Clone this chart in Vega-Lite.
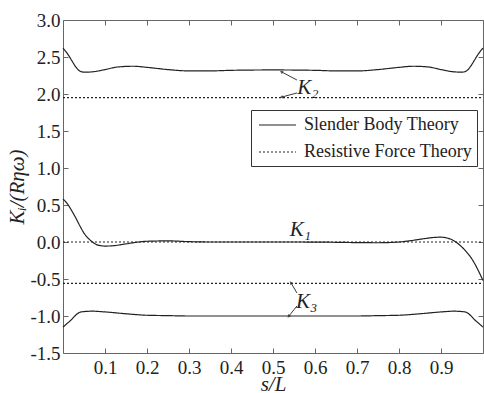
{
  "$schema": "https://vega.github.io/schema/vega-lite/v6.json",
  "width": 420,
  "height": 333,
  "autosize": {"type": "none"},
  "padding": {"left": 63, "top": 20, "right": 1, "bottom": 40},
  "background": "white",
  "config": {
    "view": {"stroke": null},
    "font": "Liberation Serif",
    "axis": {
      "domainColor": "#666",
      "tickColor": "#666",
      "grid": false,
      "labelFont": "Liberation Serif",
      "labelFontSize": 19,
      "labelColor": "#222",
      "titleFont": "Liberation Serif",
      "titleFontStyle": "italic",
      "titleFontWeight": "normal",
      "titleFontSize": 21,
      "titleColor": "#222",
      "tickSize": -5
    }
  },
  "datasets": {
    "curves": [
      {"s": 0, "value": 0.58, "series": "K1", "method": "Slender Body Theory"},
      {"s": 0.01, "value": 0.52, "series": "K1", "method": "Slender Body Theory"},
      {"s": 0.02, "value": 0.43, "series": "K1", "method": "Slender Body Theory"},
      {"s": 0.03, "value": 0.33, "series": "K1", "method": "Slender Body Theory"},
      {"s": 0.04, "value": 0.22, "series": "K1", "method": "Slender Body Theory"},
      {"s": 0.05, "value": 0.12, "series": "K1", "method": "Slender Body Theory"},
      {"s": 0.06, "value": 0.05, "series": "K1", "method": "Slender Body Theory"},
      {"s": 0.07, "value": 0.0, "series": "K1", "method": "Slender Body Theory"},
      {"s": 0.08, "value": -0.035, "series": "K1", "method": "Slender Body Theory"},
      {"s": 0.09, "value": -0.05, "series": "K1", "method": "Slender Body Theory"},
      {"s": 0.1, "value": -0.055, "series": "K1", "method": "Slender Body Theory"},
      {"s": 0.12, "value": -0.05, "series": "K1", "method": "Slender Body Theory"},
      {"s": 0.15, "value": -0.025, "series": "K1", "method": "Slender Body Theory"},
      {"s": 0.2, "value": 0.01, "series": "K1", "method": "Slender Body Theory"},
      {"s": 0.25, "value": 0.015, "series": "K1", "method": "Slender Body Theory"},
      {"s": 0.3, "value": 0.005, "series": "K1", "method": "Slender Body Theory"},
      {"s": 0.35, "value": 0.0, "series": "K1", "method": "Slender Body Theory"},
      {"s": 0.45, "value": 0.0, "series": "K1", "method": "Slender Body Theory"},
      {"s": 0.55, "value": 0.0, "series": "K1", "method": "Slender Body Theory"},
      {"s": 0.62, "value": -0.002, "series": "K1", "method": "Slender Body Theory"},
      {"s": 0.7, "value": -0.008, "series": "K1", "method": "Slender Body Theory"},
      {"s": 0.75, "value": -0.01, "series": "K1", "method": "Slender Body Theory"},
      {"s": 0.8, "value": 0.0, "series": "K1", "method": "Slender Body Theory"},
      {"s": 0.83, "value": 0.02, "series": "K1", "method": "Slender Body Theory"},
      {"s": 0.86, "value": 0.045, "series": "K1", "method": "Slender Body Theory"},
      {"s": 0.88, "value": 0.06, "series": "K1", "method": "Slender Body Theory"},
      {"s": 0.9, "value": 0.065, "series": "K1", "method": "Slender Body Theory"},
      {"s": 0.91, "value": 0.06, "series": "K1", "method": "Slender Body Theory"},
      {"s": 0.92, "value": 0.045, "series": "K1", "method": "Slender Body Theory"},
      {"s": 0.93, "value": 0.02, "series": "K1", "method": "Slender Body Theory"},
      {"s": 0.94, "value": -0.02, "series": "K1", "method": "Slender Body Theory"},
      {"s": 0.95, "value": -0.07, "series": "K1", "method": "Slender Body Theory"},
      {"s": 0.96, "value": -0.13, "series": "K1", "method": "Slender Body Theory"},
      {"s": 0.97, "value": -0.2, "series": "K1", "method": "Slender Body Theory"},
      {"s": 0.98, "value": -0.29, "series": "K1", "method": "Slender Body Theory"},
      {"s": 0.99, "value": -0.4, "series": "K1", "method": "Slender Body Theory"},
      {"s": 1.0, "value": -0.52, "series": "K1", "method": "Slender Body Theory"},

      {"s": 0, "value": 2.62, "series": "K2", "method": "Slender Body Theory"},
      {"s": 0.01, "value": 2.55, "series": "K2", "method": "Slender Body Theory"},
      {"s": 0.02, "value": 2.46, "series": "K2", "method": "Slender Body Theory"},
      {"s": 0.03, "value": 2.37, "series": "K2", "method": "Slender Body Theory"},
      {"s": 0.04, "value": 2.31, "series": "K2", "method": "Slender Body Theory"},
      {"s": 0.05, "value": 2.295, "series": "K2", "method": "Slender Body Theory"},
      {"s": 0.07, "value": 2.3, "series": "K2", "method": "Slender Body Theory"},
      {"s": 0.1, "value": 2.33, "series": "K2", "method": "Slender Body Theory"},
      {"s": 0.13, "value": 2.365, "series": "K2", "method": "Slender Body Theory"},
      {"s": 0.167, "value": 2.375, "series": "K2", "method": "Slender Body Theory"},
      {"s": 0.2, "value": 2.36, "series": "K2", "method": "Slender Body Theory"},
      {"s": 0.25, "value": 2.33, "series": "K2", "method": "Slender Body Theory"},
      {"s": 0.3, "value": 2.312, "series": "K2", "method": "Slender Body Theory"},
      {"s": 0.35, "value": 2.312, "series": "K2", "method": "Slender Body Theory"},
      {"s": 0.4, "value": 2.32, "series": "K2", "method": "Slender Body Theory"},
      {"s": 0.5, "value": 2.325, "series": "K2", "method": "Slender Body Theory"},
      {"s": 0.6, "value": 2.32, "series": "K2", "method": "Slender Body Theory"},
      {"s": 0.65, "value": 2.312, "series": "K2", "method": "Slender Body Theory"},
      {"s": 0.7, "value": 2.312, "series": "K2", "method": "Slender Body Theory"},
      {"s": 0.75, "value": 2.33, "series": "K2", "method": "Slender Body Theory"},
      {"s": 0.8, "value": 2.36, "series": "K2", "method": "Slender Body Theory"},
      {"s": 0.833, "value": 2.375, "series": "K2", "method": "Slender Body Theory"},
      {"s": 0.87, "value": 2.365, "series": "K2", "method": "Slender Body Theory"},
      {"s": 0.9, "value": 2.33, "series": "K2", "method": "Slender Body Theory"},
      {"s": 0.93, "value": 2.3, "series": "K2", "method": "Slender Body Theory"},
      {"s": 0.95, "value": 2.295, "series": "K2", "method": "Slender Body Theory"},
      {"s": 0.96, "value": 2.31, "series": "K2", "method": "Slender Body Theory"},
      {"s": 0.97, "value": 2.37, "series": "K2", "method": "Slender Body Theory"},
      {"s": 0.98, "value": 2.46, "series": "K2", "method": "Slender Body Theory"},
      {"s": 0.99, "value": 2.55, "series": "K2", "method": "Slender Body Theory"},
      {"s": 1.0, "value": 2.62, "series": "K2", "method": "Slender Body Theory"},

      {"s": 0, "value": -1.15, "series": "K3", "method": "Slender Body Theory"},
      {"s": 0.01, "value": -1.1, "series": "K3", "method": "Slender Body Theory"},
      {"s": 0.02, "value": -1.05, "series": "K3", "method": "Slender Body Theory"},
      {"s": 0.03, "value": -0.99, "series": "K3", "method": "Slender Body Theory"},
      {"s": 0.04, "value": -0.95, "series": "K3", "method": "Slender Body Theory"},
      {"s": 0.05, "value": -0.94, "series": "K3", "method": "Slender Body Theory"},
      {"s": 0.07, "value": -0.935, "series": "K3", "method": "Slender Body Theory"},
      {"s": 0.1, "value": -0.945, "series": "K3", "method": "Slender Body Theory"},
      {"s": 0.15, "value": -0.97, "series": "K3", "method": "Slender Body Theory"},
      {"s": 0.2, "value": -0.99, "series": "K3", "method": "Slender Body Theory"},
      {"s": 0.25, "value": -0.995, "series": "K3", "method": "Slender Body Theory"},
      {"s": 0.3, "value": -1.0, "series": "K3", "method": "Slender Body Theory"},
      {"s": 0.5, "value": -1.0, "series": "K3", "method": "Slender Body Theory"},
      {"s": 0.7, "value": -1.0, "series": "K3", "method": "Slender Body Theory"},
      {"s": 0.75, "value": -0.995, "series": "K3", "method": "Slender Body Theory"},
      {"s": 0.8, "value": -0.99, "series": "K3", "method": "Slender Body Theory"},
      {"s": 0.85, "value": -0.97, "series": "K3", "method": "Slender Body Theory"},
      {"s": 0.9, "value": -0.945, "series": "K3", "method": "Slender Body Theory"},
      {"s": 0.93, "value": -0.935, "series": "K3", "method": "Slender Body Theory"},
      {"s": 0.95, "value": -0.94, "series": "K3", "method": "Slender Body Theory"},
      {"s": 0.96, "value": -0.95, "series": "K3", "method": "Slender Body Theory"},
      {"s": 0.97, "value": -0.99, "series": "K3", "method": "Slender Body Theory"},
      {"s": 0.98, "value": -1.05, "series": "K3", "method": "Slender Body Theory"},
      {"s": 0.99, "value": -1.1, "series": "K3", "method": "Slender Body Theory"},
      {"s": 1.0, "value": -1.15, "series": "K3", "method": "Slender Body Theory"},

      {"s": 0, "value": 1.95, "series": "K2r", "method": "Resistive Force Theory"},
      {"s": 1, "value": 1.95, "series": "K2r", "method": "Resistive Force Theory"},
      {"s": 0, "value": 0, "series": "K1r", "method": "Resistive Force Theory"},
      {"s": 1, "value": 0, "series": "K1r", "method": "Resistive Force Theory"},
      {"s": 0, "value": -0.56, "series": "K3r", "method": "Resistive Force Theory"},
      {"s": 1, "value": -0.56, "series": "K3r", "method": "Resistive Force Theory"}
    ],
    "labels": [
      {"s": 0.583, "value": 2.08, "text": "K₂"},
      {"s": 0.565, "value": 0.16, "text": "K₁"},
      {"s": 0.58, "value": -0.81, "text": "K₃"}
    ],
    "arrows": [
      {"id": "a1", "s": 0.557, "value": 2.189, "s2": 0.521, "value2": 2.297},
      {"id": "a2", "s": 0.557, "value": 2.014, "s2": 0.521, "value2": 1.959},
      {"id": "a3", "s": 0.557, "value": -0.689, "s2": 0.543, "value2": -0.554},
      {"id": "a4", "s": 0.557, "value": -0.865, "s2": 0.538, "value2": -1.0}
    ]
  },
  "layer": [
    {
      "data": {"name": "curves"},
      "mark": {"type": "line", "color": "#222", "strokeWidth": 1.2, "interpolate": "monotone"},
      "encoding": {
        "x": {"field": "s", "type": "quantitative",
              "scale": {"domain": [0, 1], "nice": false, "zero": false},
              "axis": {"orient": "bottom", "values": [0.1,0.2,0.3,0.4,0.5,0.6,0.7,0.8,0.9], "format": ".1f",
                       "title": "s/L", "labelPadding": 10, "titlePadding": -4}},
        "y": {"field": "value", "type": "quantitative",
              "scale": {"domain": [-1.5, 3], "nice": false, "zero": false},
              "axis": {"orient": "left", "values": [-1.5,-1,-0.5,0,0.5,1,1.5,2,2.5,3],
                       "labelExpr": "replace(format(datum.value, '.1f'), '−', '-')",
                       "title": "Kᵢ/(Rηω)", "labelPadding": 8, "titlePadding": 2}},
        "detail": {"field": "series"},
        "strokeDash": {"field": "method", "type": "nominal",
          "scale": {"domain": ["Slender Body Theory", "Resistive Force Theory"], "range": [[1, 0], [2, 2]]},
          "legend": {"orient": "none", "legendX": 188, "legendY": 90, "title": null,
                     "strokeColor": "#333", "fillColor": "white", "padding": 5,
                     "symbolType": "M-0.78,0H3.33", "symbolSize": 324, "symbolStrokeWidth": 1.2,
                     "symbolStrokeColor": "#222", "labelFont": "Liberation Serif", "labelLimit": 0,
                     "labelFontSize": 18, "labelColor": "#222", "labelOffset": 28, "rowPadding": 8}}
      }
    },
    {
      "data": {"name": "labels"},
      "mark": {"type": "text", "font": "Liberation Serif", "fontStyle": "italic", "fontSize": 21, "color": "#222"},
      "encoding": {
        "x": {"field": "s", "type": "quantitative",
              "axis": {"orient": "top", "values": [0.1,0.2,0.3,0.4,0.5,0.6,0.7,0.8,0.9], "labels": false, "title": null}},
        "y": {"field": "value", "type": "quantitative",
              "axis": {"orient": "right", "values": [-1.5,-1,-0.5,0,0.5,1,1.5,2,2.5,3], "labels": false, "title": null}},
        "text": {"field": "text"}
      }
    },
    {
      "data": {"name": "arrows"},
      "mark": {"type": "rule", "color": "#222", "strokeWidth": 0.9},
      "encoding": {
        "x": {"field": "s", "type": "quantitative", "axis": null},
        "y": {"field": "value", "type": "quantitative", "axis": null},
        "x2": {"field": "s2"},
        "y2": {"field": "value2"}
      }
    },
    {
      "data": {"name": "arrows"},
      "transform": [{"filter": "datum.id == 'a1'"}],
      "mark": {"type": "point", "shape": "triangle", "filled": true, "color": "#222", "size": 14, "angle": 298},
      "encoding": {"x": {"field": "s2", "type": "quantitative", "axis": null}, "y": {"field": "value2", "type": "quantitative", "axis": null}}
    },
    {
      "data": {"name": "arrows"},
      "transform": [{"filter": "datum.id == 'a2'"}],
      "mark": {"type": "point", "shape": "triangle", "filled": true, "color": "#222", "size": 14, "angle": 255},
      "encoding": {"x": {"field": "s2", "type": "quantitative", "axis": null}, "y": {"field": "value2", "type": "quantitative", "axis": null}}
    },
    {
      "data": {"name": "arrows"},
      "transform": [{"filter": "datum.id == 'a3'"}],
      "mark": {"type": "point", "shape": "triangle", "filled": true, "color": "#222", "size": 14, "angle": 329},
      "encoding": {"x": {"field": "s2", "type": "quantitative", "axis": null}, "y": {"field": "value2", "type": "quantitative", "axis": null}}
    },
    {
      "data": {"name": "arrows"},
      "transform": [{"filter": "datum.id == 'a4'"}],
      "mark": {"type": "point", "shape": "triangle", "filled": true, "color": "#222", "size": 14, "angle": 219},
      "encoding": {"x": {"field": "s2", "type": "quantitative", "axis": null}, "y": {"field": "value2", "type": "quantitative", "axis": null}}
    }
  ],
  "resolve": {"axis": {"x": "independent", "y": "independent"}}
}
